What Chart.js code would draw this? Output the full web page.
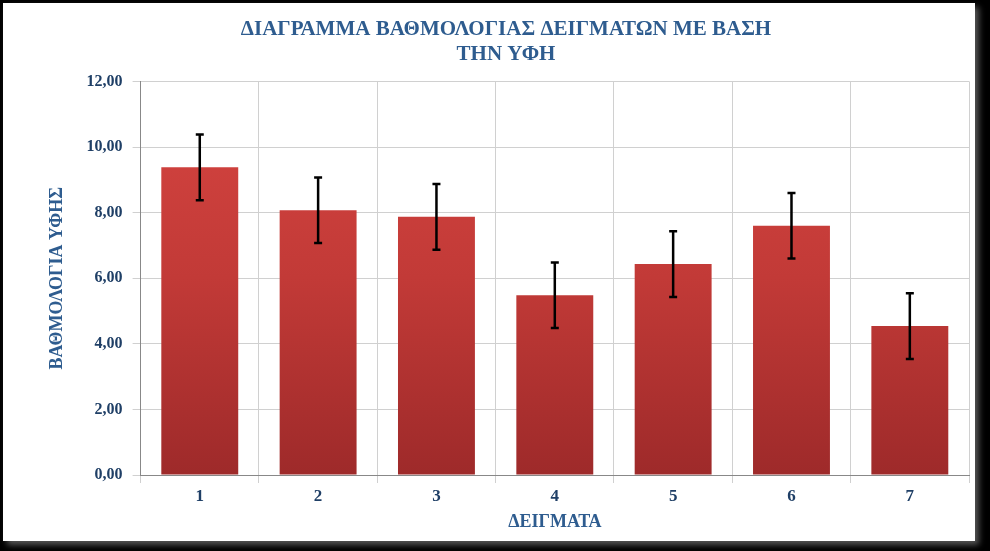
<!DOCTYPE html>
<html><head><meta charset="utf-8">
<script src="https://cdn.jsdelivr.net/npm/chart.js@4"></script>
<style>
html,body{margin:0;padding:0;background:#000;width:990px;height:551px;overflow:hidden}
#box{position:absolute;left:3px;top:3px;width:972px;height:538px;background:#fff;box-shadow:4px 4px 6px #555}
</style></head><body>
<div id="box"><canvas id="c" width="972" height="538"></canvas></div>
<script>
const categories=['1','2','3','4','5','6','7'];
const scores=[9.38,8.07,7.87,5.48,6.43,7.60,4.54];
const errors=[1,1,1,1,1,1,1];
const yTicks=[0,2,4,6,8,10,12];

const errPlugin={id:'err',afterDatasetsDraw(chart){
  const ctx=chart.ctx,y=chart.scales.y,meta=chart.getDatasetMeta(0);
  ctx.save();ctx.strokeStyle='#000';ctx.lineWidth=2.5;
  meta.data.forEach((b,i)=>{
    const x=b.x,t=y.getPixelForValue(scores[i]+errors[i]),bt=y.getPixelForValue(scores[i]-errors[i]);
    ctx.beginPath();ctx.moveTo(x,t);ctx.lineTo(x,bt);
    ctx.moveTo(x-4,t);ctx.lineTo(x+4,t);ctx.moveTo(x-4,bt);ctx.lineTo(x+4,bt);ctx.stroke();
  });ctx.restore();}};

const font={family:'"Liberation Serif", "Times New Roman", serif',weight:'bold'};
new Chart(document.getElementById('c'),{
 type:'bar',
 data:{labels:categories,datasets:[{data:scores,
   backgroundColor(c){const a=c.chart.chartArea;if(!a)return '#c33';
     const g=c.chart.ctx.createLinearGradient(0,a.top,0,a.bottom);
     g.addColorStop(0,'#d64541');g.addColorStop(0.5,'#c23a37');g.addColorStop(1,'#9e2a2a');return g;},
   borderWidth:0,categoryPercentage:0.65,barPercentage:1}]},
 options:{responsive:false,animation:false,
  layout:{padding:{left:40,right:6,top:8,bottom:4}},
  plugins:{legend:{display:false},tooltip:{enabled:false},
   title:{display:true,text:['ΔΙΑΓΡΑΜΜΑ ΒΑΘΜΟΛΟΓΙΑΣ ΔΕΙΓΜΑΤΩΝ ΜΕ ΒΑΣΗ','ΤΗΝ ΥΦΗ'],
    color:'#2e5c8f',font:{...font,size:21},padding:{top:6,bottom:14},lineHeight:1.05}},
  scales:{
   x:{grid:{display:true,color:'#d0d0d0',offset:true},border:{color:'#888'},
      ticks:{color:'#1f3f66',font:{...font,size:17}},
      title:{display:true,text:'ΔΕΙΓΜΑΤΑ',color:'#2e5c8f',font:{...font,size:18},padding:{top:2}}},
   y:{min:0,max:12,afterBuildTicks(s){s.ticks=yTicks.map(v=>({value:v}));},
      grid:{color:'#d0d0d0'},border:{color:'#888'},
      ticks:{color:'#1f3f66',font:{...font,size:16},padding:10,callback:v=>v.toFixed(2).replace('.',',')},
      title:{display:true,text:'ΒΑΘΜΟΛΟΓΙΑ ΥΦΗΣ',color:'#2e5c8f',font:{...font,size:18},padding:{bottom:8}}}
  }},
 plugins:[errPlugin]});
</script></body></html>
